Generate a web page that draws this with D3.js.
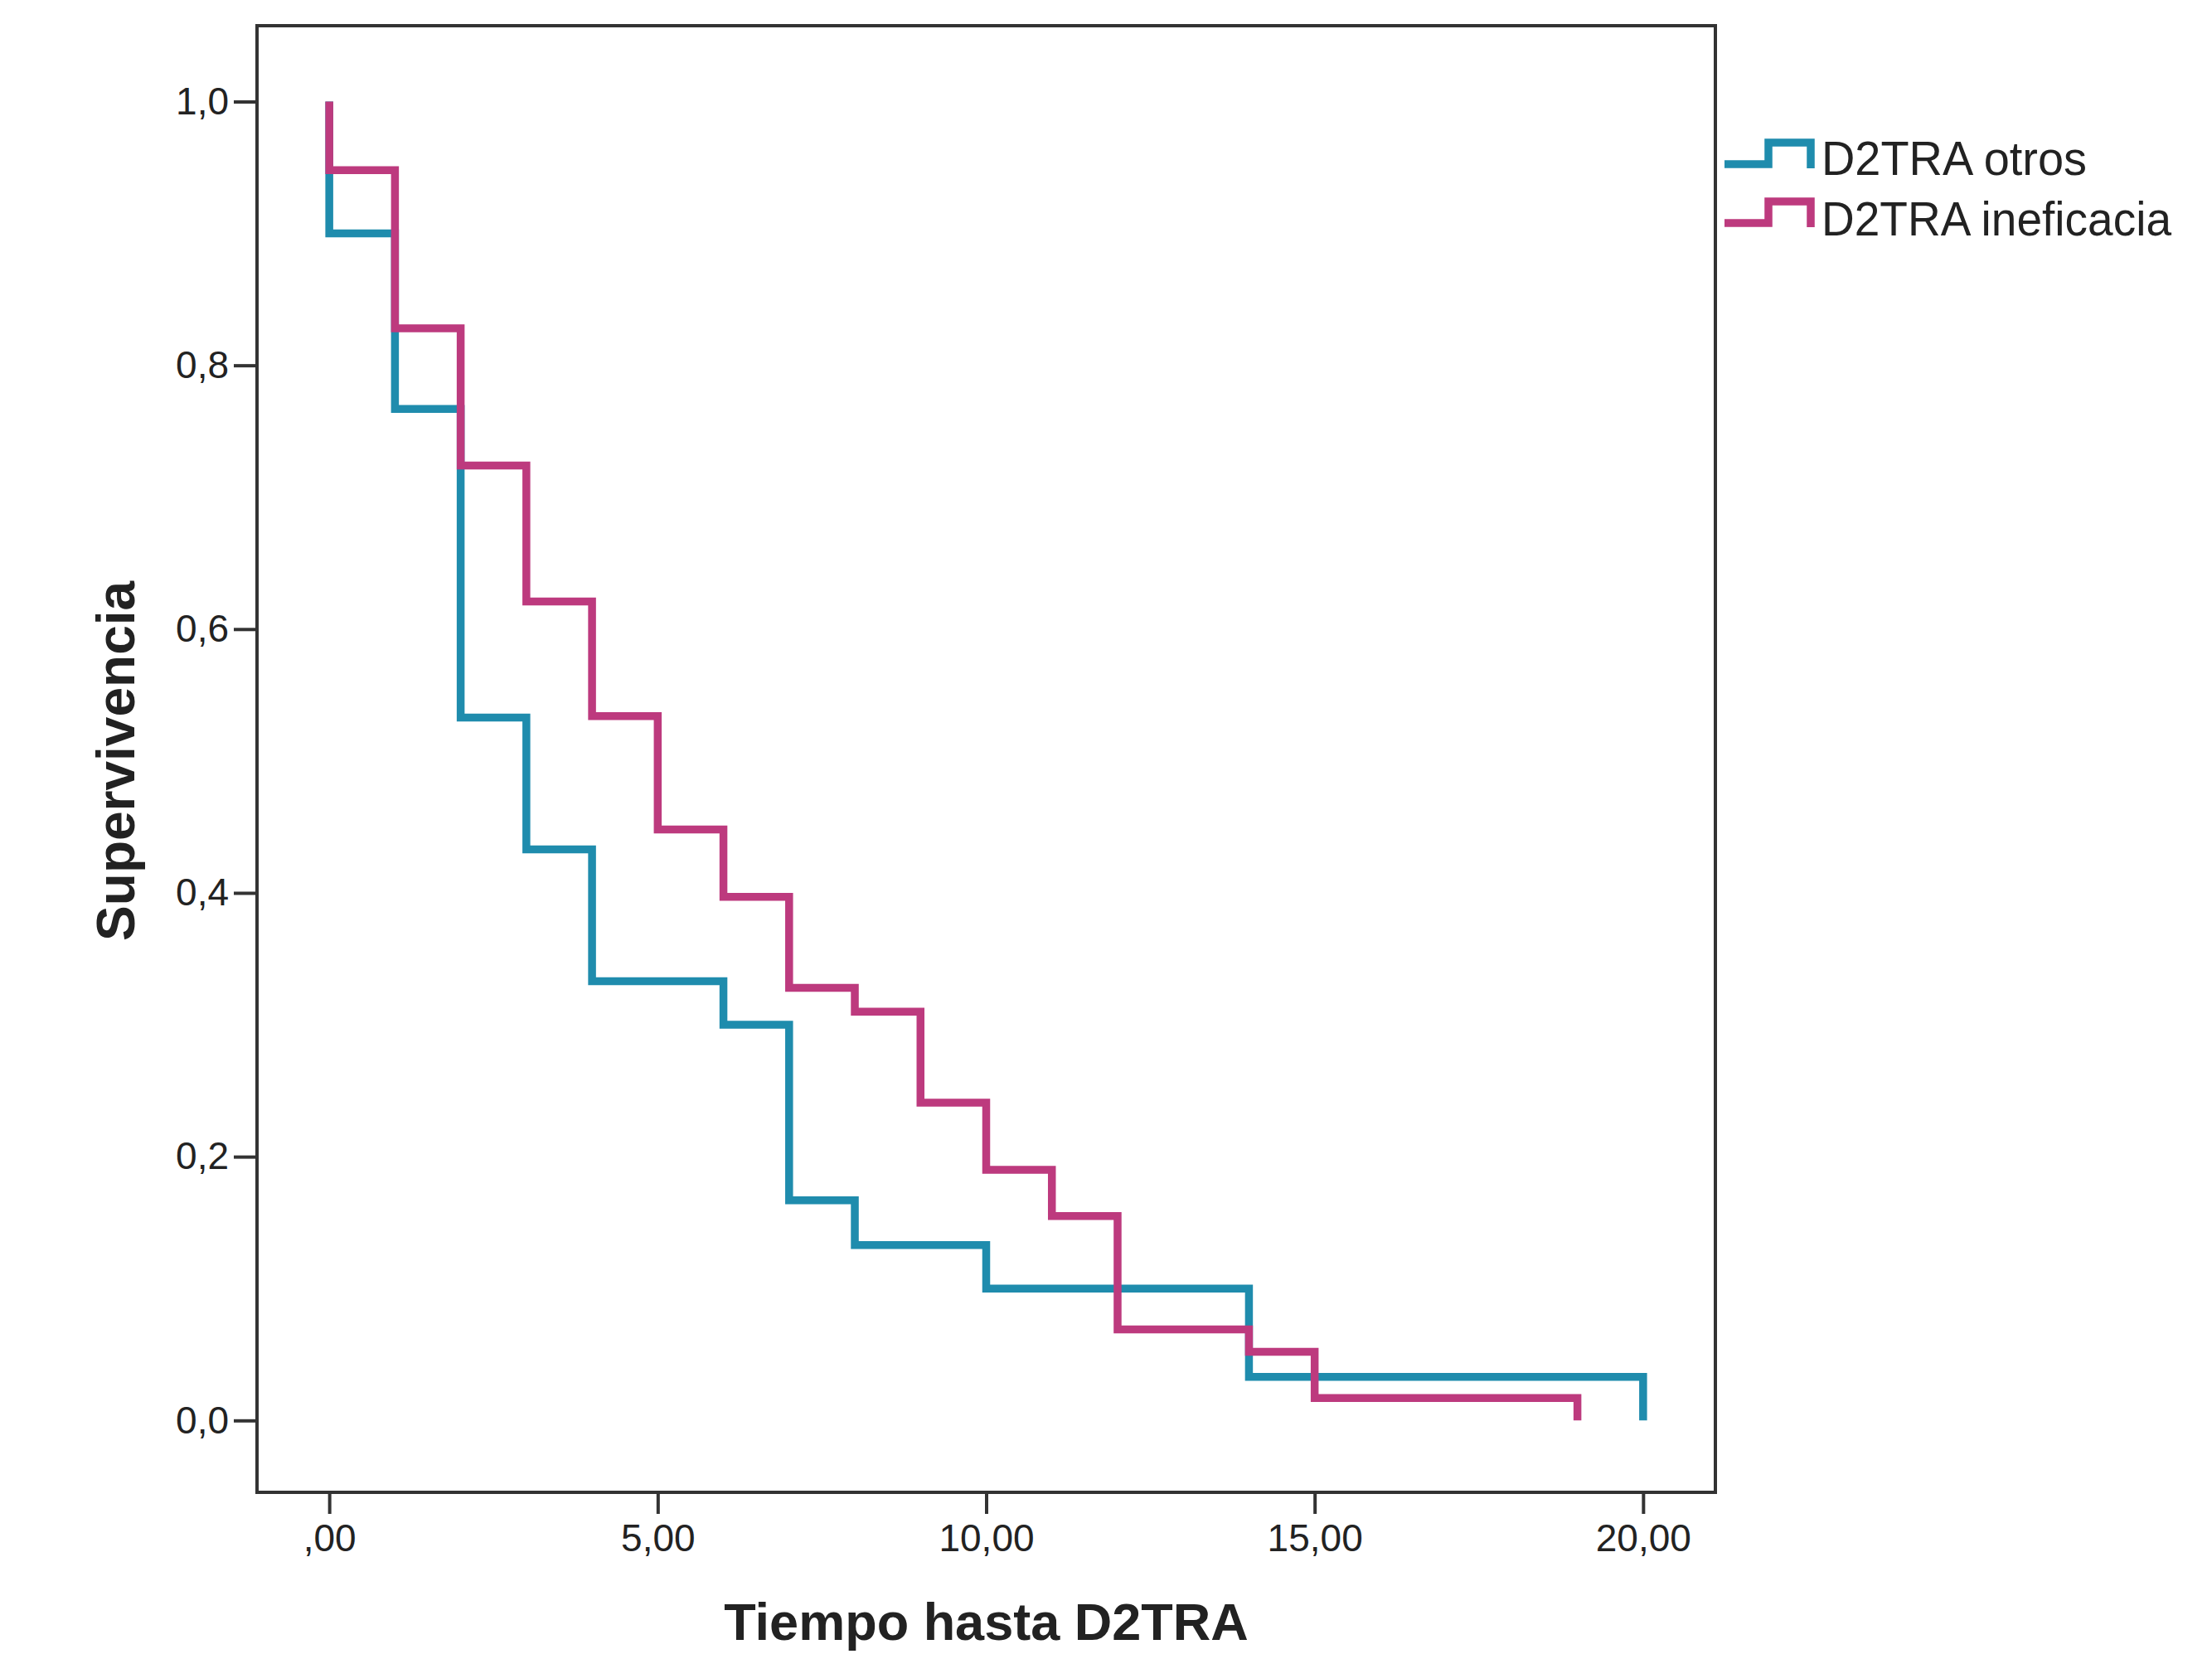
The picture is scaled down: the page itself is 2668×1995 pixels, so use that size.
<!DOCTYPE html>
<html>
<head>
<meta charset="utf-8">
<script src="https://cdn.jsdelivr.net/npm/d3@7"></script>
<style>
  html, body { margin: 0; padding: 0; background: #fff; }
  svg { display: block; }
  text { font-family: "Liberation Sans", Arial, sans-serif; fill: #222; }
</style>
</head>
<body>
<svg id="chart" width="2668" height="1995"></svg>
<script>
// ---- Data (Kaplan-Meier step points: time, survival) ----
const seriesNames = ["D2TRA otros", "D2TRA ineficacia"];
const otrosTimes    = [0, 0, 1, 2, 3, 4, 6, 7, 8, 10, 14, 20];
const otrosSurv     = [1.0, 0.900, 0.767, 0.533, 0.433, 0.333, 0.300, 0.167, 0.133, 0.100, 0.033, 0.0];
const inefTimes     = [0, 0, 1, 2, 3, 4, 5, 6, 7, 8, 9, 10, 11, 12, 14, 15, 19];
const inefSurv      = [1.0, 0.948, 0.828, 0.724, 0.621, 0.534, 0.448, 0.397, 0.328, 0.310, 0.241, 0.190, 0.155, 0.069, 0.052, 0.017, 0.0];
const xTicks = [0, 5, 10, 15, 20];
const xTickLabels = [",00", "5,00", "10,00", "15,00", "20,00"];
const yTicks = [0, 0.2, 0.4, 0.6, 0.8, 1.0];
const yTickLabels = ["0,0", "0,2", "0,4", "0,6", "0,8", "1,0"];
const colors = ["#1f8cad", "#bd3a7e"];
const xTitle = "Tiempo hasta D2TRA";
const yTitle = "Supervivencia";

const svg = d3.select("#chart");
svg.append("rect").attr("width", 2668).attr("height", 1995).attr("fill", "#fff");

const x = d3.scaleLinear().domain([-1.1, 21.1]).range([310, 2069]);
const y = d3.scaleLinear().domain([-0.0545, 1.0575]).range([1800, 31]);

const [x0, x1] = x.range();
const [yb, yt] = y.range();

// Frame
svg.append("rect")
  .attr("x", x0).attr("y", yt)
  .attr("width", x1 - x0).attr("height", yb - yt)
  .attr("fill", "none").attr("stroke", "#333").attr("stroke-width", 4);

// Y axis
const yAxis = d3.axisLeft(y).tickValues(yTicks)
  .tickFormat((d, i) => yTickLabels[i]).tickSize(28).tickPadding(6);
const gy = svg.append("g").attr("transform", `translate(${x0},0)`).call(yAxis);
gy.select(".domain").remove();
gy.selectAll(".tick line").attr("stroke", "#333").attr("stroke-width", 4);
gy.selectAll(".tick text").attr("font-size", 46).attr("fill", "#222")
  .attr("font-family", "Liberation Sans, Arial, sans-serif");

// X axis
const xAxis = d3.axisBottom(x).tickValues(xTicks)
  .tickFormat((d, i) => xTickLabels[i]).tickSize(26).tickPadding(12);
const gx = svg.append("g").attr("transform", `translate(0,${yb})`).call(xAxis);
gx.select(".domain").remove();
gx.selectAll(".tick line").attr("stroke", "#333").attr("stroke-width", 4);
gx.selectAll(".tick text").attr("font-size", 46).attr("fill", "#222")
  .attr("font-family", "Liberation Sans, Arial, sans-serif");

// Axis titles
svg.append("text")
  .attr("x", (x(0) + x(20)) / 2).attr("y", 1978)
  .attr("text-anchor", "middle").attr("font-size", 63).attr("font-weight", "bold")
  .text(xTitle);
svg.append("text")
  .attr("transform", `translate(162,${(y(0) + y(1)) / 2}) rotate(-90)`)
  .attr("text-anchor", "middle").attr("font-size", 64).attr("font-weight", "bold")
  .text(yTitle);

// Step lines
const line = d3.line().x(d => x(d[0])).y(d => y(d[1])).curve(d3.curveStepAfter);
const series = [
  otrosTimes.map((t, i) => [t, otrosSurv[i]]),
  inefTimes.map((t, i) => [t, inefSurv[i]])
];
series.forEach((pts, k) => {
  svg.append("path").datum(pts)
    .attr("d", line)
    .attr("fill", "none")
    .attr("stroke", colors[k])
    .attr("stroke-width", 9.5)
    .attr("stroke-linejoin", "miter")
    .attr("stroke-linecap", "butt");
});

// Legend
const legendTop = [172, 243];
const legendLow = [198, 269];
const legendBase = [211, 284];
seriesNames.forEach((name, k) => {
  const g = svg.append("g");
  const sym = [[2080, legendLow[k]], [2133, legendLow[k]], [2133, legendTop[k]], [2184, legendTop[k]], [2184, legendLow[k] + 5]];
  g.append("path")
    .attr("d", d3.line()(sym))
    .attr("fill", "none").attr("stroke", colors[k]).attr("stroke-width", 9.5)
    .attr("stroke-linejoin", "miter");
  g.append("text")
    .attr("x", 2197).attr("y", legendBase[k])
    .attr("font-size", 57)
    .attr("textLength", k === 0 ? 320 : 422)
    .attr("lengthAdjust", "spacingAndGlyphs")
    .text(name);
});
</script>
</body>
</html>
